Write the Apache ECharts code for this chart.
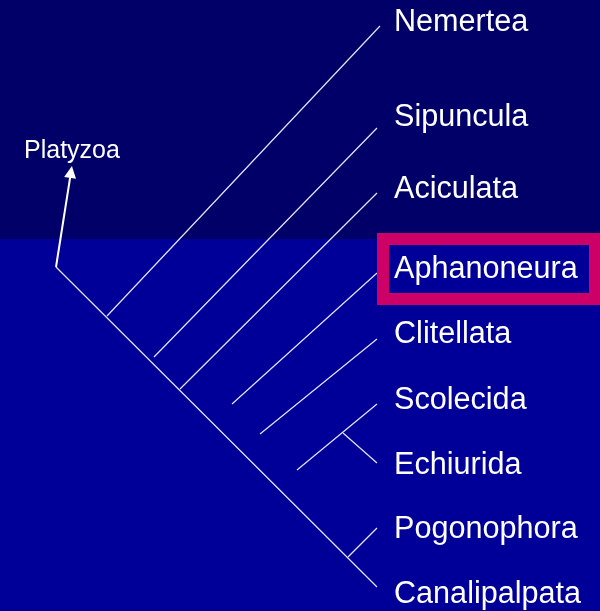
<!DOCTYPE html>
<html>
<head>
<meta charset="utf-8">
<script src="https://cdn.jsdelivr.net/npm/echarts@6/dist/echarts.min.js"></script>
<style>
html,body{margin:0;padding:0;background:#000099;}
#c{width:600px;height:611px;}
</style>
</head>
<body>
<div id="c"></div>
<script>
// Taxa (leaf labels), top to bottom
var taxa = ['Nemertea', 'Sipuncula', 'Aciculata', 'Aphanoneura', 'Clitellata', 'Scolecida', 'Echiurida', 'Pogonophora', 'Canalipalpata'];
// Label centre positions (y) and label x
var labelY = [21, 116, 188, 268, 333, 399, 464, 528, 593];
var labelX = 394;
// Branch base (node) and branch tip for each taxon, in diagram units
var branchBaseX = [107, 154, 180, 232, 260, 297, 343, 348, 56];
var branchBaseY = [316, 357, 389, 404, 434, 470, 433, 557, 267];
var branchTipX  = [380, 377, 377, 377, 377, 377, 377, 377, 377];
var branchTipY  = [26, 128, 193, 273, 339, 404, 463, 528, 587];
// Outgroup arrow (Platyzoa)
var outgroupName = 'Platyzoa';
var arrowFrom = [56, 267];
var arrowTo = [71, 172];
var outgroupLabel = [24, 149];
var highlightTaxon = 'Aphanoneura';

var chart = echarts.init(document.getElementById('c'));

var branchData = taxa.map(function (t, i) {
  return { coords: [[branchBaseX[i], branchBaseY[i]], [branchTipX[i], branchTipY[i]]] };
});
var labelData = taxa.map(function (t, i) {
  return { name: t, value: [labelX, labelY[i]] };
});

var font = '"Liberation Sans", Arial, sans-serif';

chart.setOption({
  backgroundColor: '#000099',
  animation: false,
  grid: { left: 0, right: 0, top: 0, bottom: 0 },
  xAxis: { type: 'value', min: 0, max: 600, show: false },
  yAxis: { type: 'value', min: 0, max: 611, inverse: true, show: false },
  graphic: [
    { type: 'rect', z: -10, shape: { x: 0, y: 0, width: 600, height: 239 }, style: { fill: '#000068' } },
    { type: 'rect', z: 5, shape: { x: 383, y: 239, width: 212, height: 60 }, style: { fill: 'none', stroke: '#CC0066', lineWidth: 12 } }
  ],
  series: [
    {
      type: 'lines',
      coordinateSystem: 'cartesian2d',
      polyline: false,
      lineStyle: { color: '#e6e6ff', width: 1.2, opacity: 1 },
      data: branchData,
      z: 2
    },
    {
      type: 'lines',
      coordinateSystem: 'cartesian2d',
      symbol: ['none', 'triangle'],
      symbolSize: [9, 12],
      lineStyle: { color: '#ffffff', width: 2, opacity: 1 },
      itemStyle: { color: '#ffffff', opacity: 1 },
      data: [{ coords: [arrowFrom, arrowTo] }],
      z: 3
    },
    {
      type: 'scatter',
      symbolSize: 0,
      silent: true,
      itemStyle: { opacity: 1 },
      data: labelData,
      label: {
        show: true,
        position: [0, 0],
        offset: [0, 2],
        align: 'left',
        verticalAlign: 'middle',
        formatter: '{b}',
        color: '#ffffff',
        opacity: 1,
        fontSize: 30.6,
        fontFamily: font
      },
      z: 6
    },
    {
      type: 'scatter',
      symbolSize: 0,
      silent: true,
      itemStyle: { opacity: 1 },
      data: [{ name: outgroupName, value: outgroupLabel }],
      label: {
        show: true,
        position: [0, 0],
        offset: [0, 2],
        align: 'left',
        verticalAlign: 'middle',
        formatter: '{b}',
        color: '#ffffff',
        opacity: 1,
        fontSize: 25,
        fontFamily: font
      },
      z: 6
    }
  ]
});
</script>
</body>
</html>
